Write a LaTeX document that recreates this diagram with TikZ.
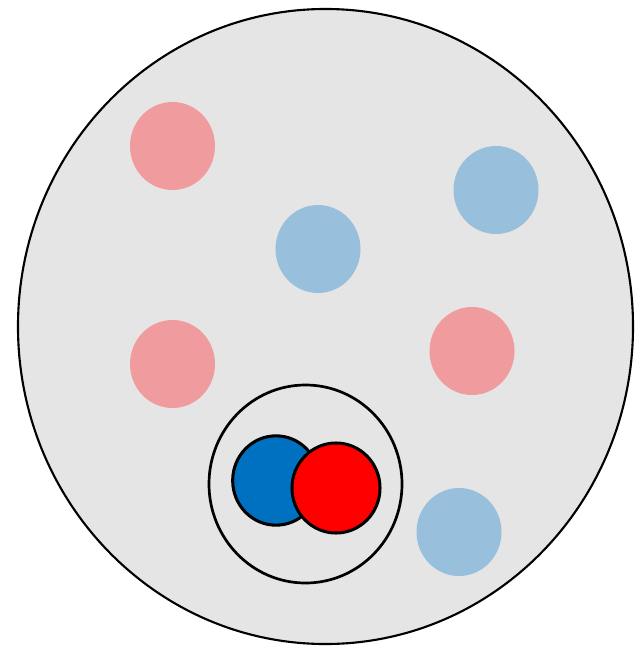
\documentclass[tikz,border=0pt]{standalone}
\usepackage{xcolor}
\usepackage{tikz}
\usetikzlibrary{shapes.geometric}
\definecolor{cellgray}{HTML}{E5E5E5}
\definecolor{palered}{HTML}{F09B9D}
\definecolor{paleblue}{HTML}{98BFDC}
\definecolor{deepblue}{HTML}{0070C0}
\definecolor{brightred}{HTML}{FF0000}

\begin{document}
\begin{tikzpicture}[
  x=0.03cm, y=-0.03cm,
  cell/.style={ellipse, draw=black, fill=cellgray, line width=1.8pt, minimum width=18.45cm, minimum height=19.05cm, inner sep=0pt},
  free/.style={ellipse, draw=none, minimum width=2.55cm, minimum height=2.64cm, inner sep=0pt},
  pair/.style={ellipse, draw=black, line width=2.3pt, minimum width=5.79cm, minimum height=5.94cm, inner sep=0pt},
  bound/.style={ellipse, draw=black, line width=2.6pt, minimum width=2.6cm, minimum height=2.68cm, inner sep=0pt}
]
\useasboundingbox (0,0) rectangle (642,647);

% outer cell
\node[cell] (cell) at (325.5,326.5) {};

% free particles
\node[free, fill=palered] (redA) at (172.5,146) {};
\node[free, fill=paleblue] (blueA) at (496,190) {};
\node[free, fill=paleblue] (blueB) at (318,249) {};
\node[free, fill=palered] (redB) at (172.5,364) {};
\node[free, fill=palered] (redC) at (472,351) {};
\node[free, fill=paleblue] (blueC) at (459,532) {};

% bound pair
\node[pair] (pair) at (305.5,484) {};
\node[bound, fill=deepblue] (blueP) at (276,480.5) {};
\node[bound, fill=brightred, minimum width=2.64cm, minimum height=2.7cm] (redP) at (336,488) {};

\end{tikzpicture}
\end{document}
